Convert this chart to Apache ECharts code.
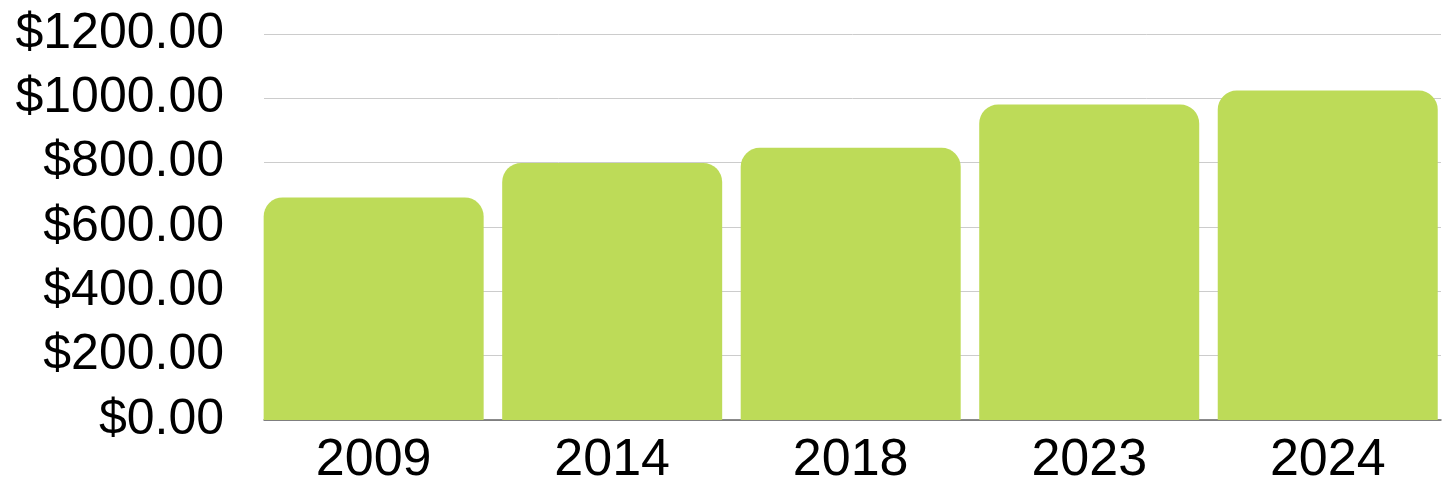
<!DOCTYPE html>
<html>
<head>
<meta charset="utf-8">
<script src="https://cdn.jsdelivr.net/npm/echarts@6/dist/echarts.min.js"></script>
<style>
html,body{margin:0;padding:0;background:#fff;}
#chart{width:1447px;height:489px;}
</style>
</head>
<body>
<div id="chart"></div>
<script>
const categories = ['2009', '2014', '2018', '2023', '2024'];
const prices = [692, 799, 846, 981, 1024];
const yMin = 0, yMax = 1200, yStep = 200;

const chart = echarts.init(document.getElementById('chart'), null, {renderer: 'canvas'});
const font = '"Liberation Sans", Arial, sans-serif';
chart.setOption({
  animation: false,
  backgroundColor: '#ffffff',
  grid: [
    {left: 254.4, width: 1196, top: 34, bottom: 69, containLabel: false},
    {left: 264, right: 6, top: 34, bottom: 69, containLabel: false}
  ],
  xAxis: [
    {
      type: 'category', gridIndex: 0, data: categories,
      axisLine: {show: false}, axisTick: {show: false},
      axisLabel: {color: '#000', fontFamily: font, fontSize: 52, margin: 15}
    },
    {
      type: 'value', gridIndex: 1, min: 0, max: 1,
      axisLine: {show: true, onZero: false, lineStyle: {color: '#666', width: 1.5}},
      axisTick: {show: false}, axisLabel: {show: false}, splitLine: {show: false}
    }
  ],
  yAxis: [
    {
      type: 'value', gridIndex: 0, min: yMin, max: yMax, interval: yStep,
      show: false, splitLine: {show: false}
    },
    {
      type: 'value', gridIndex: 1, min: yMin, max: yMax, interval: yStep,
      axisLine: {show: false}, axisTick: {show: false},
      axisLabel: {
        color: '#000', fontFamily: font, fontSize: 50, margin: 40,
        formatter: v => '$' + v.toFixed(2)
      },
      splitLine: {show: true, lineStyle: {color: '#cccccc', width: 1}}
    }
  ],
  series: [{
    type: 'bar', xAxisIndex: 0, yAxisIndex: 0,
    data: prices, barWidth: 220, z: 3,
    itemStyle: {color: '#bddb58', borderRadius: [19, 19, 0, 0]}
  }]
});
</script>
</body>
</html>
